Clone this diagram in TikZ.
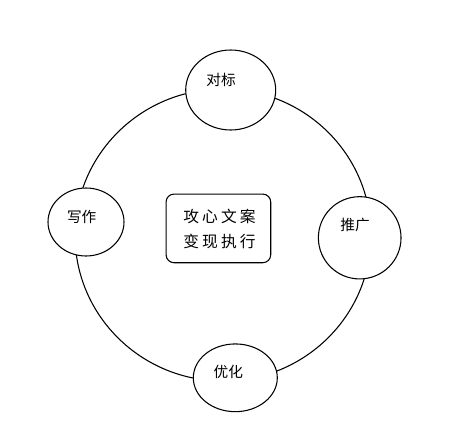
\documentclass[tikz,border=0pt]{standalone}
\usepackage{fontspec}
\newfontfamily\cjk{Noto Sans CJK SC}
\usetikzlibrary{shapes.geometric}
\begin{document}
\begin{tikzpicture}[x=0.75pt,y=-0.75pt,line width=0.8pt,
  stage/.style={draw,ellipse,fill=white,inner sep=0pt},
  lbl/.style={font=\cjk\fontsize{11}{13}\selectfont,inner sep=0pt},
  corelbl/.style={font=\cjk\fontsize{11.8}{14}\selectfont,inner sep=0pt},
  core/.style={draw,rectangle,rounded corners=6pt,fill=white,inner sep=0pt,minimum width=78.5pt,minimum height=51.5pt}]
\useasboundingbox (0,0) rectangle (449,446);
\draw (223,235) ellipse [x radius=148, y radius=146];
\node[stage,minimum width=67.5pt,minimum height=60pt] (duibiao) at (230.7,90) {};
\node[stage,minimum width=57pt,minimum height=51pt] (xiezuo) at (86,222) {};
\node[stage,minimum width=62pt,minimum height=61.7pt] (tuiguang) at (359.7,237.8) {};
\node[stage,minimum width=63pt,minimum height=50.8pt] (youhua) at (235.3,377.8) {};
\node[core] (center) at (218.4,228.4) {};
\node[lbl] (t1) at (221,80) {对标};
\node[lbl] (t2) at (81.7,216.7) {写作};
\node[lbl] (t3) at (355,225) {推广};
\node[lbl] (t4) at (228.3,371.7) {优化};
\node[corelbl] (c1) at (219.5,216.7) {攻\hspace{2.3pt}心\hspace{2.3pt}文\hspace{2.3pt}案};
\node[corelbl] (c2) at (219.5,241) {变\hspace{2.3pt}现\hspace{2.3pt}执\hspace{2.3pt}行};
\end{tikzpicture}
\end{document}
